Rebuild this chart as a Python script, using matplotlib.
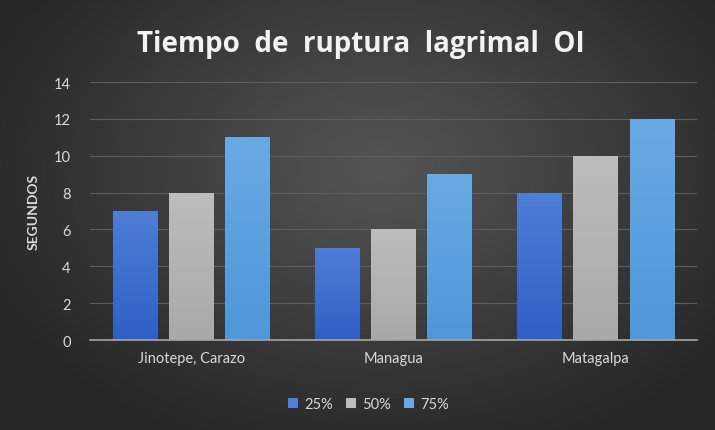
import numpy as np
import matplotlib
matplotlib.use("Agg")
import matplotlib.pyplot as plt

categories = ["Jinotepe, Carazo", "Managua", "Matagalpa"]
series_names = ["25%", "50%", "75%"]
vals_25 = [7, 5, 8]
vals_50 = [8, 6, 10]
vals_75 = [11, 9, 12]
yticks = [0, 2, 4, 6, 8, 10, 12, 14]

top_colors = ["#4f7ed6", "#bdbdbd", "#68aae4"]
bot_colors = ["#2f5fc6", "#a9a9a9", "#4f97da"]

plt.rcParams['font.family'] = ['Lato', 'DejaVu Sans']

fig = plt.figure(figsize=(7.15, 4.31), dpi=100)

# radial gradient background
bg = fig.add_axes([0, 0, 1, 1], zorder=-10)
bg.set_axis_off()
yy, xx = np.mgrid[0:431, 0:715]
cx, cy = 380, 170
r = np.sqrt(((xx - cx) / 430.0) ** 2 + ((yy - cy) / 300.0) ** 2)
r = np.clip(r, 0, 1)
c0 = np.array([0x55, 0x55, 0x55]) / 255.0
c1 = np.array([0x26, 0x26, 0x26]) / 255.0
img = c0[None, None, :] * (1 - r[..., None]) + c1[None, None, :] * r[..., None]
bg.imshow(img, extent=[0, 1, 0, 1], aspect='auto', origin='upper')
bg.set_xlim(0, 1)
bg.set_ylim(0, 1)

ax = fig.add_axes([0.126, 0.2088, 0.849, 0.5986])
ax.patch.set_alpha(0)

x = np.arange(len(categories))
w = 0.222
off = 0.277
all_vals = [vals_25, vals_50, vals_75]
grad = np.linspace(0, 1, 256)[:, None]
for i, (vals, name) in enumerate(zip(all_vals, series_names)):
    bars = ax.bar(x + (i - 1) * off, vals, width=w, color=top_colors[i], label=name, zorder=3,
                  linewidth=0)
    tc = np.array(matplotlib.colors.to_rgb(top_colors[i]))
    bc = np.array(matplotlib.colors.to_rgb(bot_colors[i]))
    for b in bars:
        x0, y0 = b.get_x(), b.get_y()
        bw, bh = b.get_width(), b.get_height()
        g = tc[None, None, :] * (1 - grad[..., None]) + bc[None, None, :] * grad[..., None]
        im = ax.imshow(g, extent=[x0, x0 + bw, y0, y0 + bh], aspect='auto', origin='upper', zorder=3.5)
        im.set_clip_path(b)

ax.set_xlim(-0.5, 2.5)
ax.set_ylim(0, 14)
ax.set_yticks(yticks)
ax.set_yticklabels([str(t) for t in yticks])
ax.set_xticks(x)
ax.set_xticklabels(categories)
ax.grid(axis='y', color='#5e5e5e', linewidth=0.8, zorder=0)
for s in ['top', 'right', 'left']:
    ax.spines[s].set_visible(False)
ax.spines['bottom'].set_color('#a6a6a6')
ax.spines['bottom'].set_linewidth(1.2)
ax.spines['bottom'].set_zorder(5)
ax.tick_params(axis='both', length=0, colors='#d9d9d9', labelsize=10.5)
ax.tick_params(axis='y', pad=14)
ax.tick_params(axis='x', pad=8)
ax.set_ylabel("SEGUNDOS", color='#d9d9d9', fontsize=10, fontweight='bold', labelpad=10)

fig.text(0.505, 0.897, "Tiempo  de  ruptura  lagrimal  OI", color='#f2f2f2', fontsize=20,
         fontweight='bold', ha='center', va='center', family=['Open Sans', 'DejaVu Sans'])

leg = fig.legend(loc='center', bbox_to_anchor=(0.515, 0.06), ncol=3, frameon=False,
                 fontsize=10.5, handlelength=0.7, handleheight=0.7, handletextpad=0.4,
                 columnspacing=0.9, labelcolor='#d9d9d9')
for h, c in zip(leg.legend_handles, top_colors):
    h.set_color(c)

fig.savefig("out.png", dpi=100)
